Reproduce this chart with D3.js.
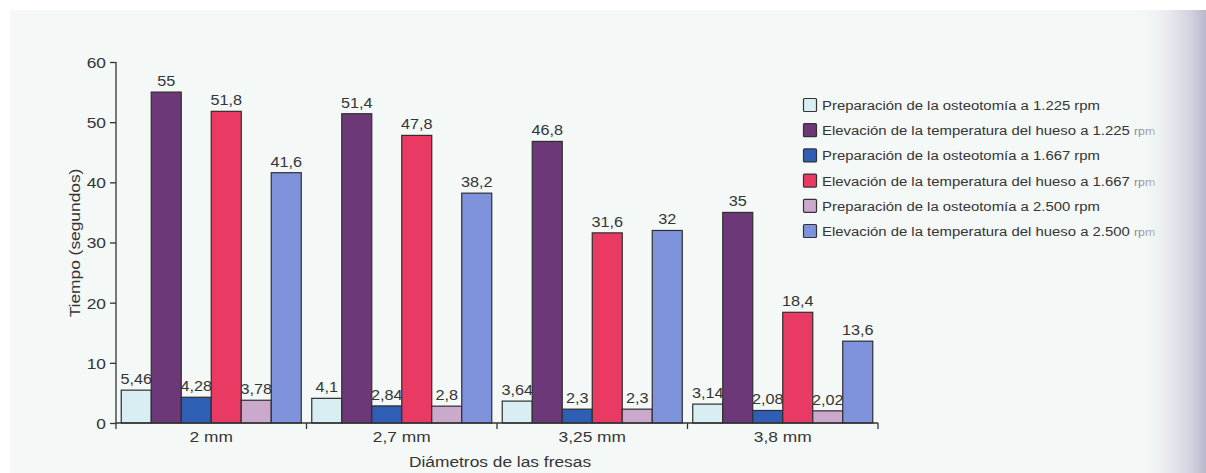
<!DOCTYPE html>
<html>
<head>
<meta charset="utf-8">
<script src="https://cdn.jsdelivr.net/npm/d3@7"></script>
<style>
  html, body { margin: 0; padding: 0; background: #ffffff; }
  svg { display: block; }
  text { font-family: "Liberation Sans", Arial, Helvetica, sans-serif; fill: #353535; }
</style>
</head>
<body>
<svg id="chart" width="1206" height="473"></svg>
<script>
// Drill diameters (x categories)
const categories = ["2 mm", "2,7 mm", "3,25 mm", "3,8 mm"];

// Series names (legend order = bar order in each group)
const seriesNames = [
  "Preparación de la osteotomía a 1.225 rpm",
  "Elevación de la temperatura del hueso a 1.225 rpm",
  "Preparación de la osteotomía a 1.667 rpm",
  "Elevación de la temperatura del hueso a 1.667 rpm",
  "Preparación de la osteotomía a 2.500 rpm",
  "Elevación de la temperatura del hueso a 2.500 rpm"
];

// Time in seconds, one array per series, by category
const prep1225 = [5.46, 4.1, 3.64, 3.14];
const elev1225 = [55, 51.4, 46.8, 35];
const prep1667 = [4.28, 2.84, 2.3, 2.08];
const elev1667 = [51.8, 47.8, 31.6, 18.4];
const prep2500 = [3.78, 2.8, 2.3, 2.02];
const elev2500 = [41.6, 38.2, 32, 13.6];

const yTicks = [0, 10, 20, 30, 40, 50, 60];

const seriesValues = [prep1225, elev1225, prep1667, elev1667, prep2500, elev2500];
const colors = ["#d8eef3", "#6c3877", "#2f5fb4", "#e93a64", "#cba9cd", "#7e93dc"];

// the typeface is set slightly wide; place text via a transform with a horizontal stretch
const SX = 1.12;
function placeText(sel, x, y, extra) {
  return sel.attr("x", 0).attr("y", 0)
    .attr("transform", `translate(${x},${y})${extra || ""} scale(${SX},1)`);
}

const svg = d3.select("#chart");

// page background with paper tone and gutter shading
const defs = svg.append("defs");
const grad = defs.append("linearGradient").attr("id", "gutter")
  .attr("x1", "0").attr("x2", "1").attr("y1", "0").attr("y2", "0");
grad.append("stop").attr("offset", "0").attr("stop-color", "#eef1f2").attr("stop-opacity", 0);
grad.append("stop").attr("offset", "0.45").attr("stop-color", "#e4e5ec").attr("stop-opacity", 0.8);
grad.append("stop").attr("offset", "0.8").attr("stop-color", "#cfd0dc").attr("stop-opacity", 1);
grad.append("stop").attr("offset", "1").attr("stop-color", "#b8b8ca").attr("stop-opacity", 1);

svg.append("rect").attr("x", 10).attr("y", 10).attr("width", 1196).attr("height", 463)
  .attr("fill", "#f4f8f6");

const x0 = d3.scaleBand().domain(categories).range([116, 878]).paddingInner(0).paddingOuter(0);
const x1 = d3.scaleBand().domain(d3.range(seriesNames.length))
  .range([0, x0.bandwidth()]).paddingInner(0).paddingOuter(0.175);
const y = d3.scaleLinear().domain([0, 60]).range([423, 62]);

const fmt = v => String(v).replace(".", ",");

// bars
const groups = svg.append("g").selectAll("g")
  .data(categories).join("g")
  .attr("transform", d => `translate(${x0(d)},0)`);

groups.each(function(cat, ci) {
  const g = d3.select(this);
  seriesValues.forEach((vals, si) => {
    const v = vals[ci];
    g.append("rect")
      .attr("x", x1(si))
      .attr("y", y(v))
      .attr("width", x1.bandwidth())
      .attr("height", y(0) - y(v))
      .attr("fill", colors[si])
      .attr("stroke", "#2e2e2e")
      .attr("stroke-width", 1.2);
    placeText(g.append("text"), x1(si) + x1.bandwidth() / 2, y(v) - 6)
      .attr("text-anchor", "middle")
      .attr("font-size", 14.5)
      .text(fmt(v));
  });
});

// y axis
const yAxis = d3.axisLeft(y).tickValues(yTicks).tickSize(6).tickPadding(3).tickFormat(d => d);
const gy = svg.append("g").attr("transform", "translate(116,0)").call(yAxis);
gy.select(".domain").attr("stroke", "#333").attr("stroke-width", 1.3).attr("d", "M0,62V423");
gy.selectAll(".tick line").attr("stroke", "#333").attr("stroke-width", 1.3);
gy.selectAll(".tick text").each(function() {
  const t = d3.select(this);
  placeText(t, -10, 0).attr("dy", "0.35em");
}).attr("font-size", 15.5).attr("fill", "#353535")
  .attr("font-family", "Liberation Sans, Arial, sans-serif");

// x axis: baseline with ticks at group boundaries
const gx = svg.append("g");
gx.append("line").attr("x1", 116).attr("x2", 878).attr("y1", y(0)).attr("y2", y(0))
  .attr("stroke", "#333").attr("stroke-width", 1.3);
const bounds = categories.map(c => x0(c)).concat([x0(categories[categories.length - 1]) + x0.bandwidth()]);
gx.selectAll("line.tk").data(bounds).join("line").attr("class", "tk")
  .attr("x1", d => d).attr("x2", d => d)
  .attr("y1", y(0)).attr("y2", y(0) + 6)
  .attr("stroke", "#333").attr("stroke-width", 1.3);
gx.selectAll("text.cat").data(categories).join("text").attr("class", "cat")
  .each(function(d) { placeText(d3.select(this), x0(d) + x0.bandwidth() / 2, 442); })
  .attr("text-anchor", "middle")
  .attr("font-size", 15.5)
  .text(d => d);

// axis titles
placeText(svg.append("text"), 80, 243, " rotate(-90)")
  .attr("text-anchor", "middle")
  .attr("font-size", 15.5)
  .text("Tiempo (segundos)");
placeText(svg.append("text"), 500, 467)
  .attr("text-anchor", "middle")
  .attr("font-size", 15.5)
  .text("Diámetros de las fresas");

// legend
const legendY = d3.scaleLinear().domain([0, 5]).range([105, 231]);
const lg = svg.append("g");
seriesNames.forEach((name, i) => {
  const cy = legendY(i);
  lg.append("rect").attr("x", 803.5).attr("y", cy - 6.5).attr("width", 13).attr("height", 13)
    .attr("fill", colors[i]).attr("stroke", "#333").attr("stroke-width", 1.2).attr("rx", 1);
  const t = placeText(lg.append("text"), 822, cy + 5).attr("font-size", 13.3);
  if (i % 2 === 1) {
    // the unit sits in the page gutter and prints smaller
    t.append("tspan").text(name.replace(/ rpm$/, " "));
    t.append("tspan").attr("font-size", 11).attr("fill", "#8f8f9a").text("rpm");
  } else {
    t.text(name);
  }
});

// gutter shading on the right page edge
svg.append("rect").attr("x", 1140).attr("y", 10).attr("width", 66).attr("height", 463)
  .attr("fill", "url(#gutter)");
</script>
</body>
</html>
